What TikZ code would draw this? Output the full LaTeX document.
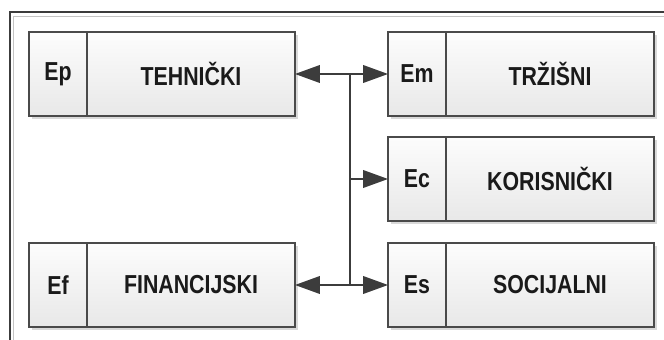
\documentclass[tikz,border=0pt]{standalone}
\usepackage{fontspec}
\setmainfont{Liberation Sans}
\newfontfamily\boxfont[FakeStretch=0.82]{Liberation Sans}
\usetikzlibrary{arrows.meta, positioning, shadows}
\definecolor{cedge}{HTML}{4A4A4A}
\definecolor{cline}{HTML}{3C3C3C}
\definecolor{ctext}{HTML}{1A1A1A}
\definecolor{cframe}{HTML}{C4C4C4}
\tikzset{
  every picture/.style={line width=1pt},
  part/.style={draw=cedge, top color=black!1, bottom color=black!9, text=ctext, outer sep=0pt, inner sep=0pt,
               font=\boxfont\fontsize{18.5}{22}\selectfont\bfseries,
               minimum height=2.1cm, drop shadow={shadow xshift=2pt, shadow yshift=-2pt, opacity=0.15, fill=black}},
  tagbox/.style={part, minimum width=1.45cm},
  headbox/.style={part, minimum width=5.2cm},
  arrow/.style={-{Triangle[length=0.62cm, width=0.44cm]}, draw=cline, line width=1.1pt},
  trunk/.style={draw=cline, line width=1.1pt},
}

\begin{document}
\begin{tikzpicture}
  \useasboundingbox (0,0) rectangle (16.6,-8.5);
  \draw[cline, line width=1pt] (0.25,-8.5) -- (0.25,-0.3) -- (16.6,-0.3);
  \draw[cframe, line width=0.6pt] (0.33,-8.5) -- (0.33,-0.4) -- (16.6,-0.4);
  \node[tagbox] (ep) at (1.45, -1.85) {Ep};
  \node[headbox, right=0pt of ep] (tehn) {TEHNIČKI};
  \node[tagbox] (ef) at (1.45, -7.125) {Ef};
  \node[headbox, right=0pt of ef] (fin) {FINANCIJSKI};
  \node[tagbox] (em) at (10.425, -1.85) {Em};
  \node[headbox, right=0pt of em] (trz) {TRŽIŠNI};
  \node[tagbox] (ec) at (10.425, -4.475) {Ec};
  \node[headbox, right=0pt of ec] (kor) {KORISNIČKI};
  \node[tagbox] (es) at (10.425, -7.125) {Es};
  \node[headbox, right=0pt of es] (soc) {SOCIJALNI};
  \coordinate (jt) at (8.75, -1.85);
  \coordinate (jb) at (8.75, -7.125);
  \coordinate (jm) at (jt |- ec.west);
  \draw[trunk] (jt) -- (jb);
  \draw[arrow] (jt) -- (tehn.east); \draw[arrow] (jt) -- (em.west);
  \draw[arrow] (jm) -- (ec.west);
  \draw[arrow] (jb) -- (fin.east); \draw[arrow] (jb) -- (es.west);
\end{tikzpicture}
\end{document}
